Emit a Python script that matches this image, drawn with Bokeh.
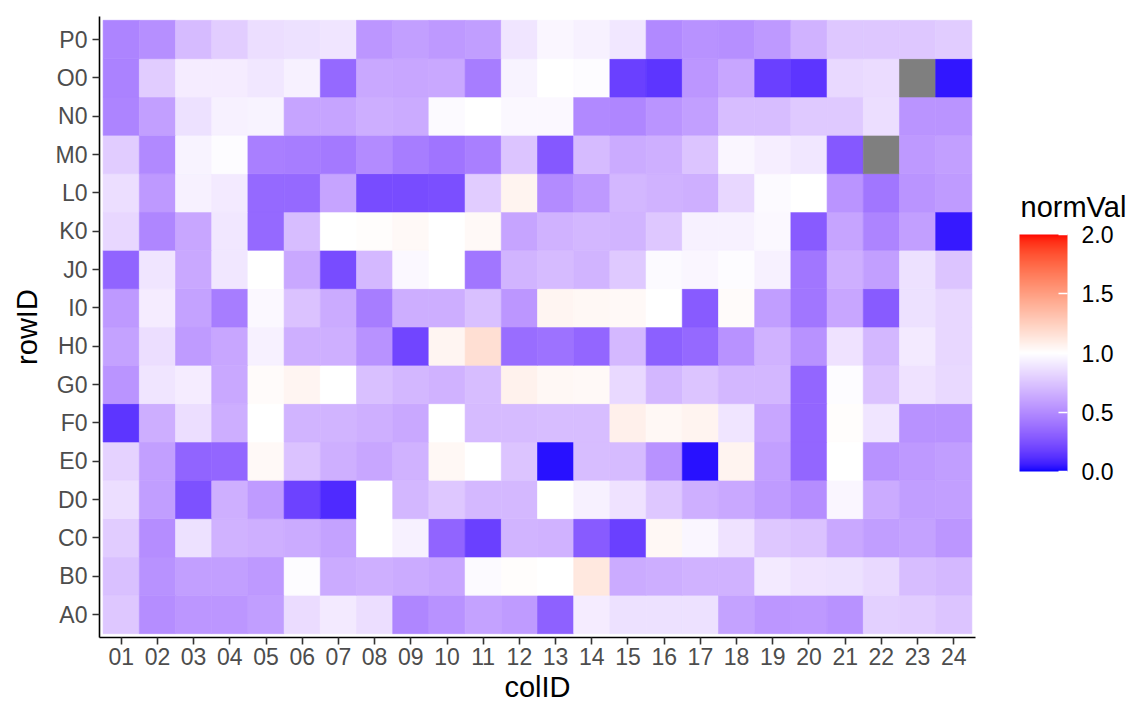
import numpy as np
from bokeh.plotting import figure
from bokeh.layouts import row
from bokeh.models import (ColumnDataSource, LinearColorMapper, ColorBar, FixedTicker,
                          Range1d, PrintfTickFormatter, Label)
from bokeh.transform import transform
from bokeh.embed import file_html
from bokeh.resources import INLINE

nan = float("nan")

# ---- data -------------------------------------------------------------
col_ids = ["01", "02", "03", "04", "05", "06", "07", "08", "09", "10", "11", "12",
           "13", "14", "15", "16", "17", "18", "19", "20", "21", "22", "23", "24"]
row_ids = ["A0", "B0", "C0", "D0", "E0", "F0", "G0", "H0",
           "I0", "J0", "K0", "L0", "M0", "N0", "O0", "P0"]

row_A0 = [0.76, 0.51, 0.55, 0.55, 0.58, 0.85, 0.91, 0.86, 0.48, 0.53, 0.60, 0.57, 0.32, 0.92, 0.87, 0.87, 0.87, 0.60, 0.55, 0.56, 0.53, 0.80, 0.78, 0.75]
row_B0 = [0.73, 0.53, 0.59, 0.59, 0.56, 0.99, 0.64, 0.66, 0.64, 0.62, 0.98, 1.01, 1.00, 1.12, 0.64, 0.65, 0.67, 0.67, 0.91, 0.88, 0.87, 0.84, 0.72, 0.70]
row_C0 = [0.78, 0.51, 0.87, 0.67, 0.66, 0.64, 0.60, 1.00, 0.94, 0.33, 0.18, 0.68, 0.67, 0.29, 0.18, 1.04, 0.96, 0.88, 0.76, 0.74, 0.63, 0.58, 0.60, 0.55]
row_D0 = [0.86, 0.58, 0.25, 0.66, 0.57, 0.19, 0.10, 1.00, 0.69, 0.76, 0.70, 0.70, 1.00, 0.94, 0.88, 0.76, 0.66, 0.63, 0.57, 0.51, 0.96, 0.64, 0.58, 0.59]
row_E0 = [0.81, 0.59, 0.33, 0.34, 1.03, 0.74, 0.66, 0.62, 0.67, 1.04, 1.00, 0.75, 0.03, 0.72, 0.71, 0.53, 0.03, 1.06, 0.59, 0.34, 1.00, 0.53, 0.56, 0.58]
row_F0 = [0.14, 0.65, 0.86, 0.65, 1.00, 0.68, 0.68, 0.66, 0.63, 1.00, 0.71, 0.71, 0.72, 0.72, 1.08, 1.04, 1.06, 0.89, 0.62, 0.34, 1.01, 0.89, 0.53, 0.53]
row_G0 = [0.54, 0.89, 0.92, 0.63, 1.02, 1.05, 1.00, 0.73, 0.69, 0.67, 0.72, 1.07, 1.04, 1.03, 0.84, 0.69, 0.75, 0.69, 0.69, 0.34, 0.99, 0.74, 0.88, 0.84]
row_H0 = [0.60, 0.86, 0.57, 0.62, 0.94, 0.66, 0.66, 0.53, 0.20, 1.05, 1.17, 0.37, 0.39, 0.34, 0.70, 0.31, 0.35, 0.53, 0.67, 0.53, 0.88, 0.69, 0.91, 0.83]
row_I0 = [0.56, 0.92, 0.60, 0.44, 0.97, 0.74, 0.64, 0.44, 0.65, 0.65, 0.73, 0.55, 1.05, 1.04, 1.03, 1.00, 0.29, 1.02, 0.58, 0.41, 0.62, 0.29, 0.87, 0.83]
row_J0 = [0.33, 0.89, 0.63, 0.90, 1.00, 0.63, 0.23, 0.70, 0.97, 1.00, 0.41, 0.68, 0.71, 0.68, 0.77, 0.98, 0.96, 0.99, 0.94, 0.41, 0.66, 0.59, 0.87, 0.75]
row_K0 = [0.83, 0.48, 0.62, 0.90, 0.35, 0.72, 1.00, 1.01, 1.03, 1.00, 1.03, 0.61, 0.67, 0.69, 0.68, 0.76, 0.94, 0.94, 0.97, 0.29, 0.61, 0.47, 0.59, 0.05]
row_L0 = [0.86, 0.56, 0.94, 0.91, 0.35, 0.35, 0.61, 0.23, 0.23, 0.24, 0.78, 1.06, 0.50, 0.56, 0.69, 0.67, 0.66, 0.83, 0.98, 1.00, 0.54, 0.41, 0.54, 0.57]
row_M0 = [0.78, 0.49, 0.95, 0.99, 0.45, 0.44, 0.42, 0.50, 0.44, 0.40, 0.45, 0.75, 0.28, 0.71, 0.64, 0.66, 0.75, 0.96, 0.93, 0.90, 0.28, nan, 0.56, 0.59]
row_N0 = [0.47, 0.59, 0.87, 0.94, 0.95, 0.61, 0.61, 0.65, 0.64, 0.98, 1.00, 0.97, 0.97, 0.49, 0.48, 0.54, 0.59, 0.72, 0.72, 0.77, 0.77, 0.86, 0.54, 0.54]
row_O0 = [0.46, 0.78, 0.92, 0.92, 0.90, 0.94, 0.35, 0.63, 0.62, 0.63, 0.44, 0.95, 1.00, 0.99, 0.18, 0.14, 0.55, 0.62, 0.18, 0.14, 0.84, 0.85, nan, 0.04]
row_P0 = [0.47, 0.52, 0.71, 0.79, 0.86, 0.87, 0.89, 0.55, 0.59, 0.56, 0.58, 0.89, 0.96, 0.94, 0.90, 0.49, 0.53, 0.52, 0.56, 0.67, 0.76, 0.76, 0.76, 0.78]

rows_values = [row_A0, row_B0, row_C0, row_D0, row_E0, row_F0, row_G0, row_H0,
               row_I0, row_J0, row_K0, row_L0, row_M0, row_N0, row_O0, row_P0]

legend_title = "normVal"
legend_ticks = [0.0, 0.5, 1.0, 1.5, 2.0]

# ---- diverging palette interpolated in CIELAB (like ggplot's gradient2) ----
_M = np.array([[0.4124, 0.3576, 0.1805], [0.2126, 0.7152, 0.0722], [0.0193, 0.1192, 0.9505]])
_W = np.array([0.95047, 1.0, 1.08883])


def rgb2lab(rgb):
    c = np.array(rgb, float) / 255.0
    lin = np.where(c <= 0.04045, c / 12.92, ((c + 0.055) / 1.055) ** 2.4)
    t = (_M @ lin) / _W
    f = np.where(t > 0.008856, np.cbrt(t), 7.787 * t + 16 / 116)
    return np.array([116 * f[1] - 16, 500 * (f[0] - f[1]), 200 * (f[1] - f[2])])


def lab2hex(lab):
    L, a, b = lab
    fy = (L + 16) / 116
    f = np.array([fy + a / 500, fy, fy - b / 200])
    t = np.where(f ** 3 > 0.008856, f ** 3, (f - 16 / 116) / 7.787)
    lin = np.clip(np.linalg.inv(_M) @ (t * _W), 0, 1)
    c = np.where(lin <= 0.0031308, 12.92 * lin, 1.055 * lin ** (1 / 2.4) - 0.055)
    r, g, bb = np.round(np.clip(c, 0, 1) * 255).astype(int)
    return "#%02x%02x%02x" % (r, g, bb)


lab_low, lab_mid, lab_high = rgb2lab((0, 0, 255)), rgb2lab((255, 255, 255)), rgb2lab((255, 0, 0))
N = 511
palette = []
for i in range(N):
    v = 2.0 * i / (N - 1)
    if v <= 1:
        lab = lab_low + (lab_mid - lab_low) * v
    else:
        lab = lab_mid + (lab_high - lab_mid) * (v - 1)
    palette.append(lab2hex(lab))

mapper = LinearColorMapper(palette=palette, low=0.0, high=2.0, nan_color="#7f7f7f")

# ---- long-format table ------------------------------------------------
xs, ys, vals = [], [], []
for ri, rv in enumerate(rows_values):
    for ci, v in enumerate(rv):
        xs.append(ci + 1)
        ys.append(ri + 1)
        vals.append(v)
source = ColumnDataSource(dict(x=np.array(xs, float), y=np.array(ys, float),
                               val=np.array(vals, float)))

FONT = "Liberation Sans"

p = figure(frame_width=876, frame_height=621,
           min_border_left=99, min_border_top=16, min_border_right=2, min_border_bottom=60,
           x_range=Range1d(0.4, len(col_ids) + 0.6), y_range=Range1d(0.4, len(row_ids) + 0.6),
           output_backend="svg", toolbar_location=None, tools="")

p.rect(x="x", y="y", width=1, height=1, source=source,
       fill_color=transform("val", mapper), line_color=transform("val", mapper), line_width=0.6)

p.xgrid.visible = False
p.ygrid.visible = False
p.outline_line_color = None

p.xaxis.ticker = FixedTicker(ticks=list(range(1, len(col_ids) + 1)))
p.xaxis.major_label_overrides = {i + 1: c for i, c in enumerate(col_ids)}
p.yaxis.ticker = FixedTicker(ticks=list(range(1, len(row_ids) + 1)))
p.yaxis.major_label_overrides = {i + 1: r for i, r in enumerate(row_ids)}

p.xaxis.axis_label = "colID"
p.yaxis.axis_label = "rowID"

for ax in (p.xaxis, p.yaxis):
    ax.axis_line_color = "black"
    ax.axis_line_width = 1.6
    ax.major_tick_line_color = "#333333"
    ax.major_tick_line_width = 1.6
    ax.major_tick_out = 7
    ax.major_tick_in = 0
    ax.minor_tick_line_color = None
    ax.major_label_text_font = FONT
    ax.major_label_text_font_size = "23px"
    ax.major_label_text_color = "#4d4d4d"
    ax.axis_label_text_font = FONT
    ax.axis_label_text_font_size = "29px"
    ax.axis_label_text_font_style = "normal"
    ax.axis_label_text_color = "black"

p.xaxis.major_label_standoff = 3
p.xaxis.axis_label_standoff = 3
p.yaxis.major_label_standoff = 5
p.yaxis.axis_label_standoff = 10

# ---- legend panel (separate figure so the title is not clipped) --------
leg = figure(width=160, height=690, min_border=0, x_range=Range1d(0, 1), y_range=Range1d(0, 1),
             x_axis_location=None, y_axis_location=None,
             output_backend="svg", toolbar_location=None, tools="")
leg.grid.visible = False
leg.outline_line_color = None

color_bar = ColorBar(color_mapper=mapper, width=48, height=237,
                     ticker=FixedTicker(ticks=legend_ticks),
                     formatter=PrintfTickFormatter(format="%.1f"),
                     major_label_text_font=FONT, major_label_text_font_size="23px",
                     major_label_text_color="black", label_standoff=14,
                     major_tick_line_color="white", major_tick_line_width=1.5,
                     major_tick_in=9, major_tick_out=0, minor_tick_line_color=None,
                     bar_line_color=None, border_line_color=None, background_fill_color=None,
                     title=None, padding=0, location=(42, 151))
leg.add_layout(color_bar)

leg.add_layout(Label(x=43, y=415.5, x_units="screen", y_units="screen", text=legend_title,
                     text_font=FONT, text_font_size="29px", text_color="black",
                     text_align="left", text_baseline="middle"))

layout = row(p, leg, spacing=0)
open("out.html", "w").write(file_html(layout, INLINE))
